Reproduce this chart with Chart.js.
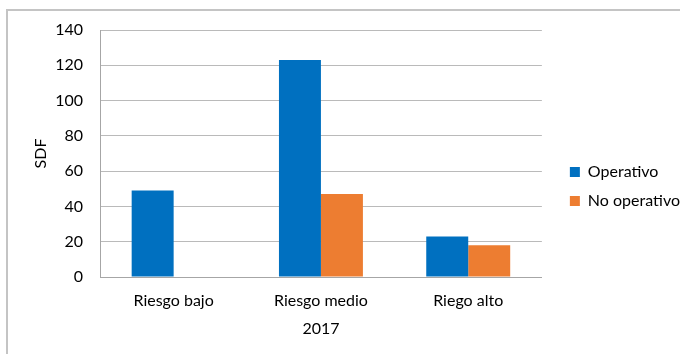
<!DOCTYPE html>
<html>
<head>
<meta charset="utf-8">
<script src="https://cdn.jsdelivr.net/npm/chart.js@4/dist/chart.umd.min.js"></script>
<style>
  html, body { margin: 0; padding: 0; background: #fff; }
  #wrap { position: relative; width: 680px; height: 354px; overflow: hidden; }
  #frame { position: absolute; left: 6px; top: 9px; width: 720px; height: 400px;
           border: 2px solid #c4c4c4; box-sizing: border-box; }
  #sdfChart { position: absolute; left: 0; top: 0; }
</style>
</head>
<body>
<div id="wrap">
  <div id="frame"></div>
  <canvas id="sdfChart" width="680" height="354"></canvas>
</div>
<script>
// categorias y series
const categories = ['Riesgo bajo', 'Riesgo medio', 'Riego alto'];
const operativo = [49, 123, 23];
const noOperativo = [null, 47, 18];
const seriesNames = ['Operativo', 'No operativo'];
const yMin = 0, yMax = 140, yStep = 20;
const xTitle = '2017';
const yTitle = 'SDF';

const FONT = 'Lato';
var sdfChart;
document.addEventListener('DOMContentLoaded', () => {
    const ctx = document.getElementById('sdfChart').getContext('2d');
    sdfChart = new Chart(ctx, {
        type: 'bar',
        data: {
            labels: categories,
            datasets: [{
                label: seriesNames[0],
                data: operativo,
                backgroundColor: '#0070C0',
                borderWidth: 0
            }, {
                label: seriesNames[1],
                data: noOperativo,
                backgroundColor: '#ED7D31',
                borderWidth: 0
            }]
        },
        options: {
            responsive: false,
            animation: false,
            categoryPercentage: 0.57,
            barPercentage: 1.0,
            layout: {
                padding: { top: 30, right: -10, bottom: 11, left: 0 }
            },
            scales: {
                x: {
                    grid: { display: false, drawTicks: false },
                    border: { display: true, color: '#a6a6a6', width: 1 },
                    ticks: {
                        color: '#000',
                        padding: 14,
                        font: { family: FONT, size: 16 }
                    },
                    title: {
                        display: true,
                        text: xTitle,
                        color: '#000',
                        padding: { top: 0, bottom: 5 },
                        font: { family: FONT, size: 16 }
                    },
                    afterFit: (s) => { s.height = 66; }
                },
                y: {
                    min: yMin,
                    max: yMax,
                    grid: { color: '#bababa', drawTicks: false },
                    border: { display: true, color: '#a6a6a6', width: 1 },
                    ticks: {
                        stepSize: yStep,
                        color: '#000',
                        padding: 17,
                        font: { family: FONT, size: 16 }
                    },
                    title: {
                        display: true,
                        text: yTitle,
                        color: '#000',
                        padding: { top: 31, bottom: 0 },
                        font: { family: FONT, size: 16 }
                    },
                    afterFit: (s) => { s.width = 100; }
                },
                // espacio vacio entre el grafico y la leyenda
                gap: {
                    type: 'linear',
                    axis: 'y',
                    position: 'right',
                    display: true,
                    grid: { display: false },
                    border: { display: false },
                    ticks: { display: false },
                    afterFit: (s) => { s.width = 15; }
                }
            },
            plugins: {
                legend: {
                    display: true,
                    position: 'right',
                    maxWidth: 200,
                    labels: {
                        color: '#000',
                        boxWidth: 10,
                        boxHeight: 10,
                        padding: 13,
                        font: { family: FONT, size: 16 }
                    }
                },
                tooltip: { enabled: false }
            }
        }
    });
});
</script>
</body>
</html>
